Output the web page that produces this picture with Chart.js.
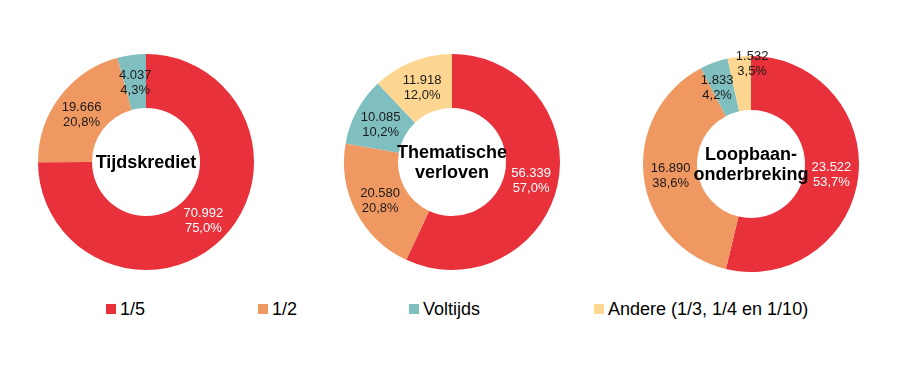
<!DOCTYPE html>
<html>
<head>
<meta charset="utf-8">
<script src="https://cdn.jsdelivr.net/npm/chart.js@4.4.1/dist/chart.umd.min.js"></script>
<style>
    body { margin: 0; background: #fff; font-family: Arial, "Liberation Sans", sans-serif; }
    #page { position: relative; width: 913px; height: 385px; overflow: hidden; }
    .donut { position: absolute; width: 260px; height: 260px; }
    .legend-item { position: absolute; top: 299px; height: 20px; font-size: 18px; line-height: 20px; color: #000; white-space: nowrap; }
    .legend-item span.box { position: absolute; left: 0; top: 5px; width: 10px; height: 10px; }
    .legend-item span.txt { position: absolute; left: 14px; top: 0; }
</style>
</head>
<body>
<div id="page">
    <div class="donut" style="left:16px; top:32px;"><canvas id="c1"></canvas></div>
    <div class="donut" style="left:322px; top:32px;"><canvas id="c2"></canvas></div>
    <div class="donut" style="left:621px; top:34px;"><canvas id="c3"></canvas></div>
    <div id="legend"></div>
</div>
<script>
// Data
const categories = ['1/5', '1/2', 'Voltijds', 'Andere (1/3, 1/4 en 1/10)'];
const colors = ['#E8313A', '#F09861', '#80BFC0', '#FDD791'];

const tijdskrediet = [70992, 19666, 4037, 0];
const thematischeVerloven = [56339, 20580, 10085, 11918];
const loopbaanonderbreking = [23522, 16890, 1833, 1532];

const titles = [['Tijdskrediet'], ['Thematische', 'verloven'], ['Loopbaan-', 'onderbreking']];

// Legend positions (left edge of marker)
const legendX = [106, 258, 409, 594];

function formatNumber(n) {
    return String(n).replace(/\B(?=(\d{3})+(?!\d))/g, '.');
}

function formatPct(p) {
    return p.toFixed(1).replace('.', ',') + '%';
}

const labelPlugin = {
    id: 'labels',
    afterDraw(chart, args, opts) {
        const ctx = chart.ctx;
        const meta = chart.getDatasetMeta(0);
        const data = chart.data.datasets[0].data;
        const total = data.reduce((s, v) => s + v, 0);
        const shift = opts.shift || {};

        ctx.save();
        ctx.textAlign = 'center';
        ctx.textBaseline = 'middle';
        ctx.font = '13px Arial, "Liberation Sans", sans-serif';
        meta.data.forEach((arc, i) => {
            if (!data[i]) return;
            const pos = arc.tooltipPosition();
            const [dx, dy] = shift[i] || [0, 0];
            const x = pos.x + dx;
            const y = pos.y + dy + 1.5;
            ctx.fillStyle = i === 0 ? '#ffffff' : '#1a1a1a';
            ctx.fillText(formatNumber(data[i]), x, y - 7.5);
            ctx.fillText(formatPct(data[i] / total * 100), x, y + 7.5);
        });

        // center title
        const cx = (chart.chartArea.left + chart.chartArea.right) / 2;
        const cy = (chart.chartArea.top + chart.chartArea.bottom) / 2;
        const lines = opts.title;
        ctx.fillStyle = '#000';
        ctx.font = 'bold 18px Arial, "Liberation Sans", sans-serif';
        lines.forEach((line, j) => {
            ctx.fillText(line, cx, cy + (j - (lines.length - 1) / 2) * 20 + 1);
        });
        ctx.restore();
    }
};

function makeDonut(id, values, title, shift) {
    return new Chart(document.getElementById(id), {
        type: 'doughnut',
        data: {
            labels: categories,
            datasets: [{
                data: values,
                backgroundColor: colors,
                borderWidth: 0
            }]
        },
        options: {
            responsive: true,
            maintainAspectRatio: false,
            animation: false,
            cutout: '50%',
            layout: { padding: 22 },
            plugins: {
                legend: { display: false },
                tooltip: { enabled: false },
                labels: { title: title, shift: shift }
            }
        },
        plugins: [labelPlugin]
    });
}

makeDonut('c1', tijdskrediet, titles[0]);
makeDonut('c2', thematischeVerloven, titles[1]);
// small slices: nudge labels apart so they don't collide
makeDonut('c3', loopbaanonderbreking, titles[2], { 2: [-6, -2], 3: [10, -21] });

// Legend
document.getElementById('legend').innerHTML = categories.map((cat, i) => `
    <div class="legend-item" style="left:${legendX[i]}px">
        <span class="box" style="background:${colors[i]}"></span>
        <span class="txt">${cat}</span>
    </div>
`).join('');
</script>
</body>
</html>
